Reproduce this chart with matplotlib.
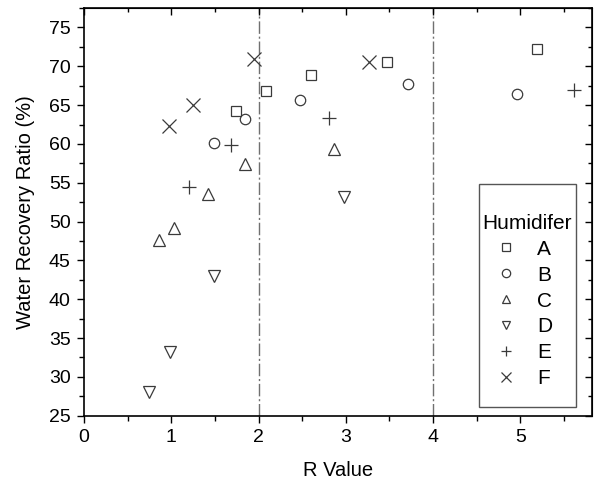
import matplotlib
matplotlib.use('Agg')

import matplotlib.pyplot as plt
from matplotlib.ticker import MultipleLocator
from matplotlib.patches import Rectangle

plt.rcParams['font.family'] = ['Liberation Sans', 'DejaVu Sans']

################# Data #####################################################
a_x = [1.74, 2.08, 2.60, 3.47, 5.19]
a_y = [64.2, 66.8, 68.9, 70.5, 72.2]
b_x = [1.49, 1.85, 2.47, 3.71, 4.96]
b_y = [60.1, 63.2, 65.6, 67.7, 66.4]
c_x = [0.86, 1.03, 1.42, 1.85, 2.86]
c_y = [47.6, 49.2, 53.6, 57.4, 59.3]
d_x = [0.74, 0.99, 1.49, 2.98]
d_y = [28.0, 33.2, 43.0, 53.2]
e_x = [1.20, 1.68, 2.81, 5.61]
e_y = [54.4, 59.8, 63.4, 66.9]
f_x = [0.97, 1.25, 1.95, 3.26]
f_y = [62.3, 65.0, 70.9, 70.6]
labels = ['A', 'B', 'C', 'D', 'E', 'F']
vlines = [2, 4]
############################################################################

series  = [(a_x, a_y), (b_x, b_y), (c_x, c_y), (d_x, d_y), (e_x, e_y), (f_x, f_y)]
markers = ['s', 'o', '^', 'v', '+', 'x']
msizes  = [7, 7.5, 8, 8, 9.5, 9.5]
mcol    = '#3a3a3a'

fig = plt.figure(figsize=(5.97, 4.83), dpi=100)
ax  = fig.add_axes([0.1407, 0.1393, 0.8509, 0.8441])

for (x, y), m, ms, lab in zip(series, markers, msizes, labels):
  ax.plot(x, y, ls='none', marker=m, ms=ms, mfc='none', mec=mcol,
          mew=0.9, label=lab)

for xv in vlines:
  ax.axvline(xv, color='#707070', lw=1.0, ls=(0, (9, 2, 1.5, 2)), zorder=0)

ax.set_xlim(0, 5.82)
ax.set_ylim(25, 77.5)
ax.xaxis.set_major_locator(MultipleLocator(1))
ax.xaxis.set_minor_locator(MultipleLocator(0.5))
ax.yaxis.set_major_locator(MultipleLocator(5))
ax.yaxis.set_minor_locator(MultipleLocator(2.5))
ax.tick_params(which='both', direction='out', width=1.0, labelsize=14, pad=4.5)
ax.tick_params(which='major', length=5)
ax.tick_params(which='minor', length=3.3)
for s in ax.spines.values():
  s.set_linewidth(1.2)

# top/right ticks point inward
top = ax.secondary_xaxis('top')
top.xaxis.set_major_locator(MultipleLocator(1))
top.xaxis.set_minor_locator(MultipleLocator(0.5))
top.tick_params(which='both', direction='in', width=1.0, labeltop=False)
top.tick_params(which='major', length=5)
top.tick_params(which='minor', length=3)
right = ax.secondary_yaxis('right')
right.yaxis.set_major_locator(MultipleLocator(5))
right.yaxis.set_minor_locator(MultipleLocator(2.5))
right.tick_params(which='both', direction='in', width=1.0, labelright=False)
right.tick_params(which='major', length=5)
right.tick_params(which='minor', length=3)

ax.set_xlabel('R Value', fontsize=14.5, labelpad=11)
ax.set_ylabel('Water Recovery Ratio (%)', fontsize=14.5, labelpad=10)

# legend box is taller than its content, so frame drawn separately
ax.add_patch(Rectangle((0.777, 0.021), 0.192, 0.547, transform=ax.transAxes,
                       fill=True, fc='white', ec='#555555', lw=1.0, zorder=4))
leg = ax.legend(title='Humidifer', loc='upper center', bbox_to_anchor=(0.873, 0.495),
                fontsize=15, title_fontsize=15, markerscale=0.8, frameon=False,
                borderpad=0, labelspacing=0.33, handletextpad=0.37, handlelength=2.24,
                borderaxespad=0, alignment='left')
leg.set_zorder(5)

fig.savefig('out.png', dpi=100)
